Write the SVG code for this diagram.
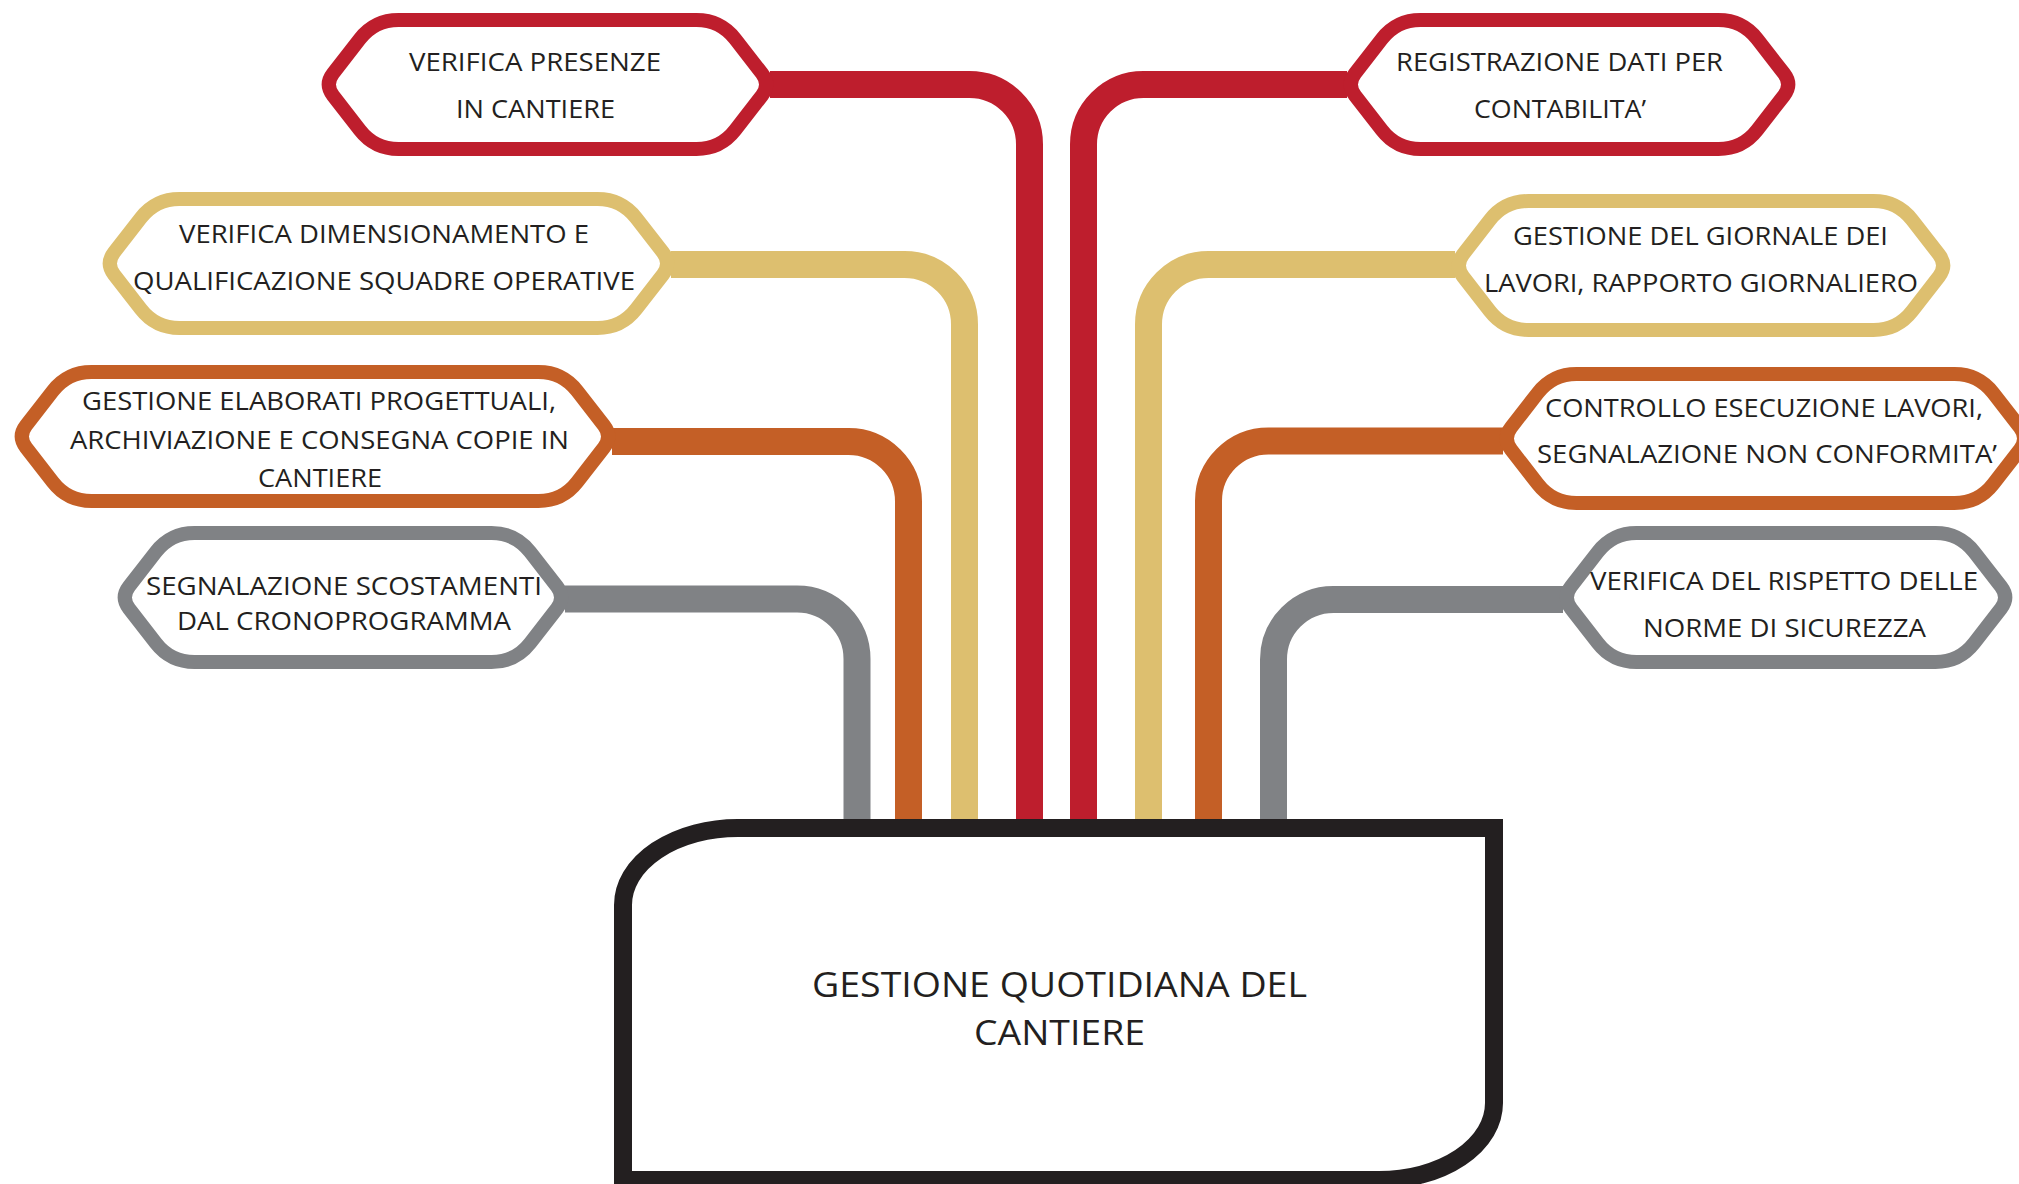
<svg xmlns="http://www.w3.org/2000/svg" width="2019" height="1184" viewBox="0 0 2019 1184">
<style>
.bg{fill:#ffffff}
.con{fill:none;stroke-width:27}
.node{fill:#ffffff;stroke-width:14;stroke-linejoin:round}
.red{stroke:#BE1E2D}
.yel{stroke:#DDBF6F}
.ora{stroke:#C45F26}
.gry{stroke:#808285}
.t{font-family:"Open Sans","Liberation Sans",sans-serif;font-size:26px;fill:#231F20}
.tc{font-family:"Open Sans","Liberation Sans",sans-serif;font-size:35px;fill:#231F20}
.box{fill:#ffffff;stroke:#231F20;stroke-width:18}
</style>
<defs>
<path id="hex446" d="M74 0 H372 Q396 0 410.7 19 L437.4 53.4 Q446 64.5 437.4 75.6 L410.7 110 Q396 129 372 129 H74 Q50 129 35.3 110 L8.6 75.6 Q0 64.5 8.6 53.4 L35.3 19 Q50 0 74 0 Z"/>
</defs>
<rect class="bg" x="0" y="0" width="2019" height="1184"/>
<g id="connectors">
<path class="con red" d="M770 84.5 H969.5 A60 60 0 0 1 1029.5 144.5 V830"/>
<path class="con red" d="M1347 84.5 H1143.5 A60 60 0 0 0 1083.5 144.5 V830"/>
<path class="con yel" d="M671 264.5 H904.5 A60 60 0 0 1 964.5 324.5 V830"/>
<path class="con yel" d="M1455 264.5 H1208.5 A60 60 0 0 0 1148.5 324.5 V830"/>
<path class="con ora" d="M612 441.5 H848.5 A60 60 0 0 1 908.5 501.5 V830"/>
<path class="con ora" d="M1503 441 H1268.5 A60 60 0 0 0 1208.5 501 V830"/>
<path class="con gry" d="M565 599 H797 A60 60 0 0 1 857 659 V830"/>
<path class="con gry" d="M1563 599.5 H1333.5 A60 60 0 0 0 1273.5 659.5 V830"/>
</g>
<g id="node-verifica-presenze">
<use href="#hex446" class="node red" transform="translate(324.5 20)"/>
<text class="t" x="409" y="71" textLength="252" lengthAdjust="spacingAndGlyphs">VERIFICA PRESENZE</text>
<text class="t" x="456" y="118" textLength="159" lengthAdjust="spacingAndGlyphs">IN CANTIERE</text>
</g>
<g id="node-registrazione-dati">
<use href="#hex446" class="node red" transform="translate(1346.5 20)"/>
<text class="t" x="1396" y="71" textLength="327" lengthAdjust="spacingAndGlyphs">REGISTRAZIONE DATI PER</text>
<text class="t" x="1474" y="118" textLength="172" lengthAdjust="spacingAndGlyphs">CONTABILITA’</text>
</g>
<g id="node-verifica-dimensionamento">
<path class="node yel" transform="translate(105.5 199)" d="M74 0 H492 Q516 0 530.7 19 L557.4 53.4 Q566 64.5 557.4 75.6 L530.7 110 Q516 129 492 129 H74 Q50 129 35.3 110 L8.6 75.6 Q0 64.5 8.6 53.4 L35.3 19 Q50 0 74 0 Z"/>
<text class="t" x="179" y="243" textLength="410" lengthAdjust="spacingAndGlyphs">VERIFICA DIMENSIONAMENTO E</text>
<text class="t" x="133" y="290" textLength="502" lengthAdjust="spacingAndGlyphs">QUALIFICAZIONE SQUADRE OPERATIVE</text>
</g>
<g id="node-giornale-lavori">
<path class="node yel" transform="translate(1454.5 201)" d="M74 0 H419 Q443 0 457.7 19 L484.4 53.4 Q493 64.5 484.4 75.6 L457.7 110 Q443 129 419 129 H74 Q50 129 35.3 110 L8.6 75.6 Q0 64.5 8.6 53.4 L35.3 19 Q50 0 74 0 Z"/>
<text class="t" x="1513" y="245" textLength="375" lengthAdjust="spacingAndGlyphs">GESTIONE DEL GIORNALE DEI</text>
<text class="t" x="1484" y="292" textLength="434" lengthAdjust="spacingAndGlyphs">LAVORI, RAPPORTO GIORNALIERO</text>
</g>
<g id="node-elaborati-progettuali">
<path class="node ora" transform="translate(17.5 372)" d="M74 0 H521 Q545 0 559.7 19 L586.4 53.4 Q595 64.5 586.4 75.6 L559.7 110 Q545 129 521 129 H74 Q50 129 35.3 110 L8.6 75.6 Q0 64.5 8.6 53.4 L35.3 19 Q50 0 74 0 Z"/>
<text class="t" x="82" y="410" textLength="474" lengthAdjust="spacingAndGlyphs">GESTIONE ELABORATI PROGETTUALI,</text>
<text class="t" x="70" y="449" textLength="499" lengthAdjust="spacingAndGlyphs">ARCHIVIAZIONE E CONSEGNA COPIE IN</text>
<text class="t" x="258" y="487" textLength="124" lengthAdjust="spacingAndGlyphs">CANTIERE</text>
</g>
<g id="node-controllo-esecuzione">
<path class="node ora" transform="translate(1502.5 374)" d="M74 0 H452 Q476 0 490.7 19 L517.4 53.4 Q526 64.5 517.4 75.6 L490.7 110 Q476 129 452 129 H74 Q50 129 35.3 110 L8.6 75.6 Q0 64.5 8.6 53.4 L35.3 19 Q50 0 74 0 Z"/>
<text class="t" x="1545" y="417" textLength="438" lengthAdjust="spacingAndGlyphs">CONTROLLO ESECUZIONE LAVORI,</text>
<text class="t" x="1537" y="463" textLength="460" lengthAdjust="spacingAndGlyphs">SEGNALAZIONE NON CONFORMITA’</text>
</g>
<g id="node-scostamenti">
<path class="node gry" transform="translate(120.5 533)" d="M74 0 H371 Q395 0 409.7 19 L436.4 53.4 Q445 64.5 436.4 75.6 L409.7 110 Q395 129 371 129 H74 Q50 129 35.3 110 L8.6 75.6 Q0 64.5 8.6 53.4 L35.3 19 Q50 0 74 0 Z"/>
<text class="t" x="146" y="595" textLength="396" lengthAdjust="spacingAndGlyphs">SEGNALAZIONE SCOSTAMENTI</text>
<text class="t" x="177" y="630" textLength="334" lengthAdjust="spacingAndGlyphs">DAL CRONOPROGRAMMA</text>
</g>
<g id="node-sicurezza">
<path class="node gry" transform="translate(1562.5 533)" d="M74 0 H373 Q397 0 411.7 19 L438.4 53.4 Q447 64.5 438.4 75.6 L411.7 110 Q397 129 373 129 H74 Q50 129 35.3 110 L8.6 75.6 Q0 64.5 8.6 53.4 L35.3 19 Q50 0 74 0 Z"/>
<text class="t" x="1590" y="590" textLength="388" lengthAdjust="spacingAndGlyphs">VERIFICA DEL RISPETTO DELLE</text>
<text class="t" x="1643" y="637" textLength="283" lengthAdjust="spacingAndGlyphs">NORME DI SICUREZZA</text>
</g>
<g id="node-gestione-quotidiana">
<path class="box" d="M623 1180 V905 A115 77 0 0 1 738 828 H1494 V1103 A115 77 0 0 1 1379 1180 Z"/>
<text class="tc" x="812" y="997" textLength="495" lengthAdjust="spacingAndGlyphs">GESTIONE QUOTIDIANA DEL</text>
<text class="tc" x="974" y="1045" textLength="171" lengthAdjust="spacingAndGlyphs">CANTIERE</text>
</g>
</svg>
